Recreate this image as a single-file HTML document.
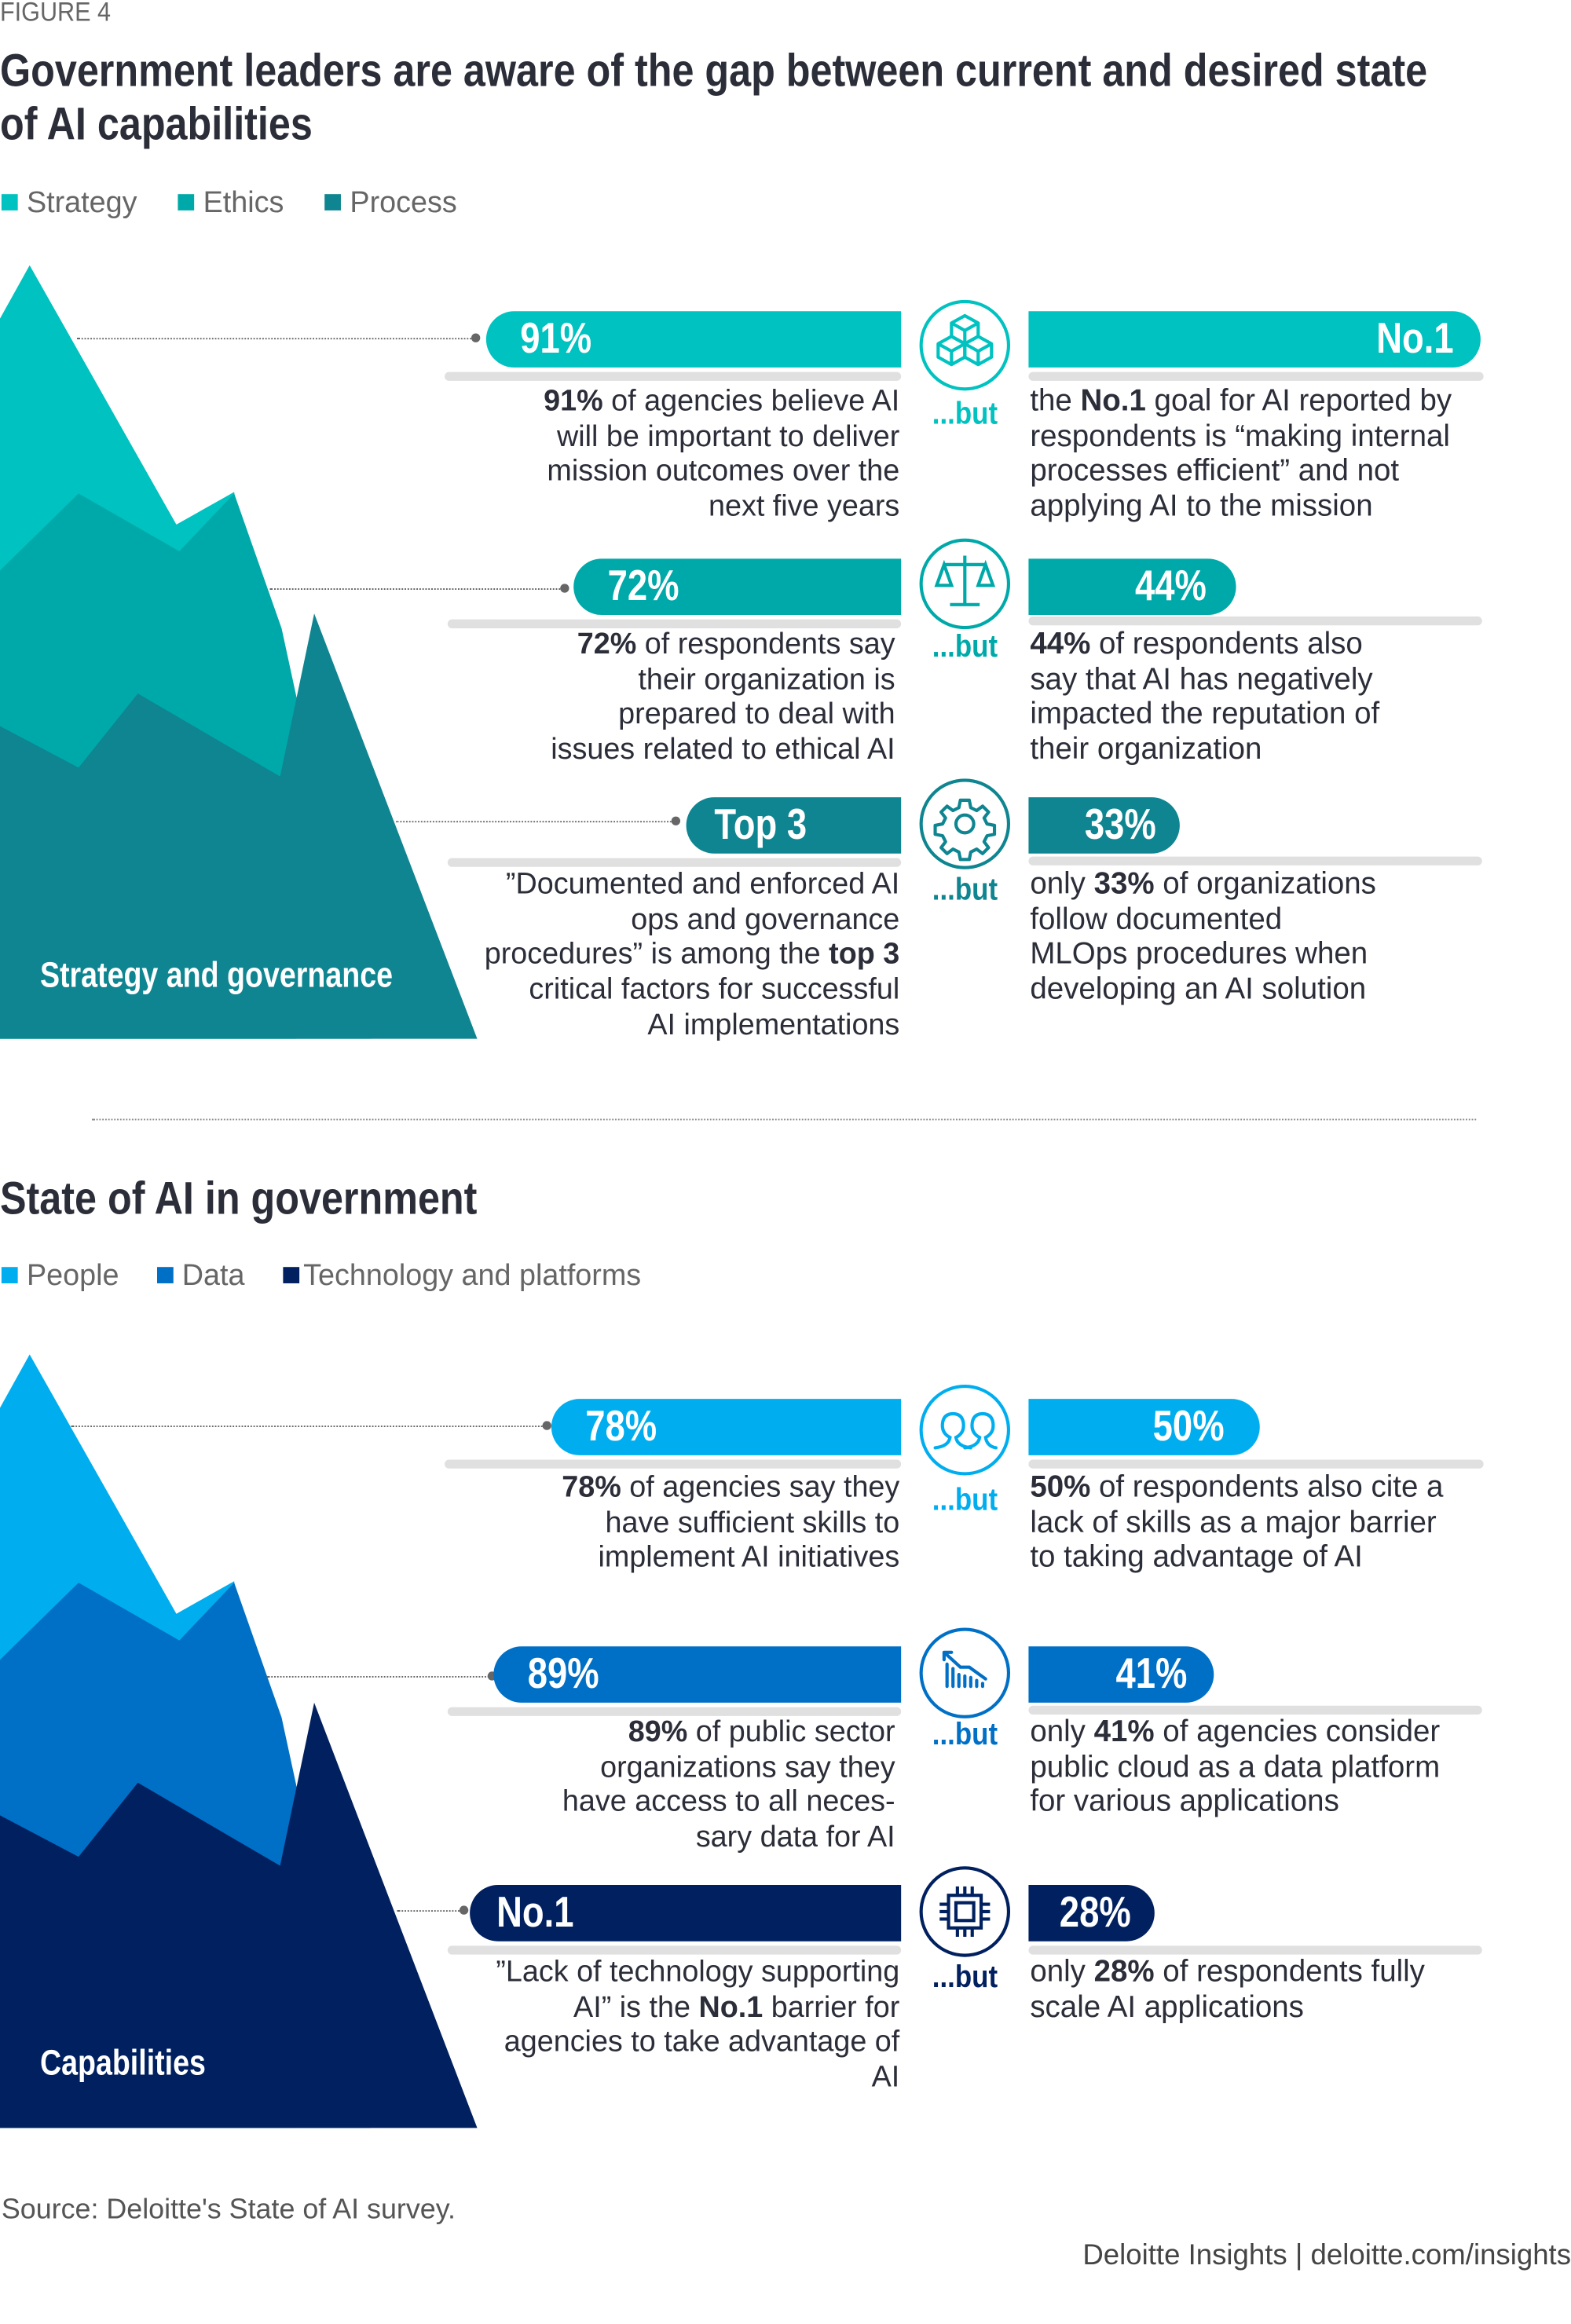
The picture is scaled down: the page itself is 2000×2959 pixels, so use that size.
<!DOCTYPE html>
<html><head><meta charset="utf-8">
<style>
html,body{margin:0;padding:0;background:#fff;}
body{width:2000px;height:2958px;overflow:hidden;position:relative;}
#stage{position:absolute;left:0;top:0;width:1060px;height:1568px;transform-origin:0 0;transform:scale(1.88679);font-family:"Liberation Sans",sans-serif;color:#2b2d38;}
.a{position:absolute;}
.cond{font-weight:bold;}
.c{display:inline-block;transform:scaleX(.83);transform-origin:left center;white-space:nowrap;}
.cr{display:inline-block;transform:scaleX(.83);transform-origin:right center;white-space:nowrap;}
.title{font-size:31px;line-height:36px;color:#2b2d38;white-space:nowrap;}
.leg{font-size:20px;color:#666;white-space:nowrap;}
.sw{display:inline-block;width:11px;height:11px;margin-right:6px;vertical-align:1px;}
.pillL{position:absolute;height:38px;border-radius:19px 0 0 19px;color:#fff;font-size:29px;line-height:38px;box-sizing:border-box;padding-left:23px;white-space:nowrap;}
.pillR{position:absolute;height:38px;border-radius:0 19px 19px 0;color:#fff;font-size:29px;line-height:38px;box-sizing:border-box;text-align:right;padding-right:18px;white-space:nowrap;}
.gray{position:absolute;height:6px;background:#e0e0e0;border-radius:3px;}
.dots{position:absolute;height:0;border-top:1.6px dotted #666;}
.dot{position:absolute;width:6px;height:6px;border-radius:3px;background:#666;}
.txtL{position:absolute;right:453px;text-align:right;font-size:20px;line-height:23.7px;white-space:nowrap;}
.txtR{position:absolute;left:695px;font-size:20.4px;line-height:23.7px;white-space:nowrap;}
.but{position:absolute;width:80px;text-align:center;font-size:21px;line-height:24px;}
.but span{display:inline-block;transform:scaleX(.88);}
.icon{position:absolute;}
b{font-weight:bold;}
</style></head>
<body>
<div id="stage">
<div class="a" style="left:0;top:-2px;font-size:18px;color:#666;"><span class="c" style="transform:scaleX(.9)">FIGURE 4</span></div>
<div class="a title cond" style="left:0;top:30px;"><span class="c" style="transform:scaleX(.86)">Government leaders are aware of the gap between current and desired state</span><br><span class="c" style="transform:scaleX(.86)">of AI capabilities</span></div>
<div class="a leg" style="left:1px;top:126px;">
<span><span class="sw" style="background:#00c2c0"></span>Strategy</span><span style="display:inline-block;width:22px"></span>
<span><span class="sw" style="background:#00a9a9"></span>Ethics</span><span style="display:inline-block;width:22px"></span>
<span><span class="sw" style="background:#0e8590"></span>Process</span></div>

<svg class="a" style="left:0;top:0" width="340" height="1568">
<polygon fill="#00c2c0" points="0,215 20,179 119,354 158,332 200,701 0,701"/>
<polygon fill="#00a9a9" points="0,385 53,333 121,372 158,333 190,424 250,701 0,701"/>
<polygon fill="#0e8590" points="0,490 53,518 93,468 189,524 212,414 322,701 0,701"/>
<polygon fill="#00aeef" points="0,950 20,914 119,1089 158,1067 200,1436 0,1436"/>
<polygon fill="#0070c6" points="0,1120 53,1068 121,1107 158,1068 190,1159 250,1436 0,1436"/>
<polygon fill="#01205f" points="0,1225 53,1253 93,1203 189,1259 212,1149 322,1436 0,1436"/>
</svg>
<div class="a cond" style="left:27px;top:645px;font-size:24px;color:#fff;"><span class="c" style="transform:scaleX(.83)">Strategy and governance</span></div>
<div class="a cond" style="left:27px;top:1379px;font-size:24px;color:#fff;"><span class="c" style="transform:scaleX(.83)">Capabilities</span></div>

<!-- Row 1 top -->
<div class="dots" style="left:52px;width:268px;top:228px"></div><div class="dot" style="left:318px;top:225px"></div>
<div class="pillL cond" style="left:328px;width:280px;top:210px;background:#00c2c0"><span class="c">91%</span></div>
<div class="gray" style="left:300px;width:308px;top:251px"></div>
<div class="txtL" style="top:260px"><b>91%</b> of agencies believe AI<br>will be important to deliver<br>mission outcomes over the<br>next five years</div>
<svg class="icon" style="left:620px;top:202px" width="62" height="62" viewBox="0 0 62 62"><circle cx="31" cy="31" r="29.5" fill="none" stroke="#00c2c0" stroke-width="2.2"/><g fill="none" stroke="#00c2c0" stroke-width="2.2" stroke-linejoin="round"><path d="M31 11 l9 5 v9 l-9 5 l-9-5 v-9z M22 16 l9 5 l9-5 M31 21 v9"/><path d="M22 25 l9 5 v9 l-9 5 l-9-5 v-9z M13 30 l9 5 l9-5 M22 35 v9"/><path d="M40 25 l9 5 v9 l-9 5 l-9-5 v-9z M31 30 l9 5 l9-5 M40 35 v9"/></g></svg>
<div class="but cond" style="left:611px;top:268px;color:#00c2c0"><span>...but</span></div>
<div class="pillR cond" style="left:694px;width:305px;top:210px;background:#00c2c0"><span class="cr">No.1</span></div>
<div class="gray" style="left:694px;width:307px;top:251px"></div>
<div class="txtR" style="top:260px">the <b>No.1</b> goal for AI reported by<br>respondents is “making internal<br>processes efficient” and not<br>applying AI to the mission</div>

<!-- Row 2 top -->
<div class="dots" style="left:182px;width:198px;top:397px"></div><div class="dot" style="left:378px;top:394px"></div>
<div class="pillL cond" style="left:387px;width:221px;top:377px;background:#00a9a9"><span class="c">72%</span></div>
<div class="gray" style="left:302px;width:306px;top:418px"></div>
<div class="txtL" style="top:424px;right:456px"><b>72%</b> of respondents say<br>their organization is<br>prepared to deal with<br>issues related to ethical AI</div>
<svg class="icon" style="left:620px;top:363px" width="62" height="62" viewBox="0 0 62 62"><circle cx="31" cy="31" r="29.5" fill="none" stroke="#00a9a9" stroke-width="2.2"/><g fill="none" stroke="#00a9a9" stroke-width="2.2"><path d="M31 12 v33 M21 45 h20 M17 18 h28 M17 18 l-5 14 h10z M45 18 l-5 14 h10z"/></g></svg>
<div class="but cond" style="left:611px;top:425px;color:#00a9a9"><span>...but</span></div>
<div class="pillR cond" style="left:694px;width:140px;top:377px;background:#00a9a9;padding-right:20px"><span class="cr">44%</span></div>
<div class="gray" style="left:694px;width:306px;top:416px"></div>
<div class="txtR" style="top:424px"><b>44%</b> of respondents also<br>say that AI has negatively<br>impacted the reputation of<br>their organization</div>

<!-- Row 3 top -->
<div class="dots" style="left:267px;width:188px;top:554px"></div><div class="dot" style="left:453px;top:551px"></div>
<div class="pillL cond" style="left:463px;width:145px;top:538px;background:#0e8590;padding-left:19px"><span class="c">Top 3</span></div>
<div class="gray" style="left:302px;width:306px;top:579px"></div>
<div class="txtL" style="top:586px">”Documented and enforced AI<br>ops and governance<br>procedures” is among the <b>top 3</b><br>critical factors for successful<br>AI implementations</div>
<svg class="icon" style="left:620px;top:525px" width="62" height="62" viewBox="0 0 62 62"><circle cx="31" cy="31" r="29.5" fill="none" stroke="#0e8590" stroke-width="2.2"/><g fill="none" stroke="#0e8590" stroke-width="2.2" stroke-linejoin="round"><circle cx="31" cy="31" r="6"/><path d="M28 15 h6 l1 5 l4 2 l4-3 l4 4 l-3 4 l2 4 l5 1 v6 l-5 1 l-2 4 l3 4 l-4 4 l-4-3 l-4 2 l-1 5 h-6 l-1-5 l-4-2 l-4 3 l-4-4 l3-4 l-2-4 l-5-1 v-6 l5-1 l2-4 l-3-4 l4-4 l4 3 l4-2z"/></g></svg>
<div class="but cond" style="left:611px;top:589px;color:#0e8590"><span>...but</span></div>
<div class="pillR cond" style="left:694px;width:102px;top:538px;background:#0e8590;padding-right:16px"><span class="cr">33%</span></div>
<div class="gray" style="left:694px;width:306px;top:578px"></div>
<div class="txtR" style="top:586px">only <b>33%</b> of organizations<br>follow documented<br>MLOps procedures when<br>developing an AI solution</div>

<div class="dots" style="left:62px;width:934px;top:755px;border-top-color:#888"></div>

<div class="a title cond" style="left:0;top:791px;"><span class="c" style="transform:scaleX(.86)">State of AI in government</span></div>
<div class="a leg" style="left:1px;top:850px;">
<span><span class="sw" style="background:#00aeef"></span>People</span><span style="display:inline-block;width:20px"></span>
<span><span class="sw" style="background:#0070c6"></span>Data</span><span style="display:inline-block;width:20px"></span>
<span><span class="sw" style="background:#01205f;margin-right:3px"></span>Technology and platforms</span></div>

<!-- Row 1 bottom -->
<div class="dots" style="left:48px;width:320px;top:962px"></div><div class="dot" style="left:366px;top:959px"></div>
<div class="pillL cond" style="left:372px;width:236px;top:944px;background:#00aeef"><span class="c">78%</span></div>
<div class="gray" style="left:300px;width:308px;top:985px"></div>
<div class="txtL" style="top:993px"><b>78%</b> of agencies say they<br>have sufficient skills to<br>implement AI initiatives</div>
<svg class="icon" style="left:620px;top:934px" width="62" height="62" viewBox="0 0 62 62"><circle cx="31" cy="31" r="29.5" fill="none" stroke="#00aeef" stroke-width="2.2"/><g fill="none" stroke="#00aeef" stroke-width="2.2" stroke-linecap="round"><path d="M11 43 q9-1 10-7 q-6-3-5-10 q1-6 7-6 q6 0 7 6 q1 7-5 10 q1 6 10 7"/><path d="M31 43 q9-1 10-7 q-6-3-5-10 q1-6 7-6 q6 0 7 6 q1 7-5 10 q1 6 7 7"/></g></svg>
<div class="but cond" style="left:611px;top:1001px;color:#00aeef"><span>...but</span></div>
<div class="pillR cond" style="left:694px;width:156px;top:944px;background:#00aeef;padding-right:24px"><span class="cr">50%</span></div>
<div class="gray" style="left:694px;width:307px;top:985px"></div>
<div class="txtR" style="top:993px"><b>50%</b> of respondents also cite a<br>lack of skills as a major barrier<br>to taking advantage of AI</div>

<!-- Row 2 bottom -->
<div class="dots" style="left:180px;width:150px;top:1131px"></div><div class="dot" style="left:329px;top:1128px"></div>
<div class="pillL cond" style="left:333px;width:275px;top:1111px;background:#0070c6"><span class="c">89%</span></div>
<div class="gray" style="left:302px;width:306px;top:1152px"></div>
<div class="txtL" style="top:1158px;right:456px"><b>89%</b> of public sector<br>organizations say they<br>have access to all neces-<br>sary data for AI</div>
<svg class="icon" style="left:620px;top:1098px" width="62" height="62" viewBox="0 0 62 62"><circle cx="31" cy="31" r="29.5" fill="none" stroke="#0070c6" stroke-width="2.2"/><g fill="none" stroke="#0070c6" stroke-width="2.2" stroke-linecap="round"><path d="M17 17 l11 10 h6 l11 8 M17 17 h5 M17 17 v5"/><path d="M19 25 v15 M23 28 v12 M27 32 v8 M31 33 v7 M35 34 v6 M39 36 v4 M43 38 v2"/></g></svg>
<div class="but cond" style="left:611px;top:1159px;color:#0070c6"><span>...but</span></div>
<div class="pillR cond" style="left:694px;width:125px;top:1111px;background:#0070c6;padding-right:18px"><span class="cr">41%</span></div>
<div class="gray" style="left:694px;width:306px;top:1151px"></div>
<div class="txtR" style="top:1158px">only <b>41%</b> of agencies consider<br>public cloud as a data platform<br>for various applications</div>

<!-- Row 3 bottom -->
<div class="dots" style="left:268px;width:44px;top:1289px"></div><div class="dot" style="left:310px;top:1286px"></div>
<div class="pillL cond" style="left:317px;width:291px;top:1272px;background:#01205f;padding-left:18px"><span class="c">No.1</span></div>
<div class="gray" style="left:302px;width:306px;top:1313px"></div>
<div class="txtL" style="top:1320px">”Lack of technology supporting<br>AI” is the <b>No.1</b> barrier for<br>agencies to take advantage of<br>AI</div>
<svg class="icon" style="left:620px;top:1259px" width="62" height="62" viewBox="0 0 62 62"><circle cx="31" cy="31" r="29.5" fill="none" stroke="#01205f" stroke-width="2.2"/><g fill="none" stroke="#01205f" stroke-width="2.2"><rect x="20" y="20" width="22" height="22"/><rect x="25" y="25" width="12" height="12"/><path d="M26 14 v6 M31 14 v6 M36 14 v6 M26 42 v6 M31 42 v6 M36 42 v6 M14 26 h6 M14 31 h6 M14 36 h6 M42 26 h6 M42 31 h6 M42 36 h6"/></g></svg>
<div class="but cond" style="left:611px;top:1323px;color:#01205f"><span>...but</span></div>
<div class="pillR cond" style="left:694px;width:85px;top:1272px;background:#01205f;padding-right:16px"><span class="cr">28%</span></div>
<div class="gray" style="left:694px;width:306px;top:1313px"></div>
<div class="txtR" style="top:1320px">only <b>28%</b> of respondents fully<br>scale AI applications</div>

<div class="a" style="left:1px;top:1481px;font-size:19px;color:#555;white-space:nowrap">Source: Deloitte's State of AI survey.</div>
<div class="a" style="right:0;top:1511px;font-size:19.4px;color:#444;white-space:nowrap">Deloitte Insights | deloitte.com/insights</div>
</div>
</body></html>
